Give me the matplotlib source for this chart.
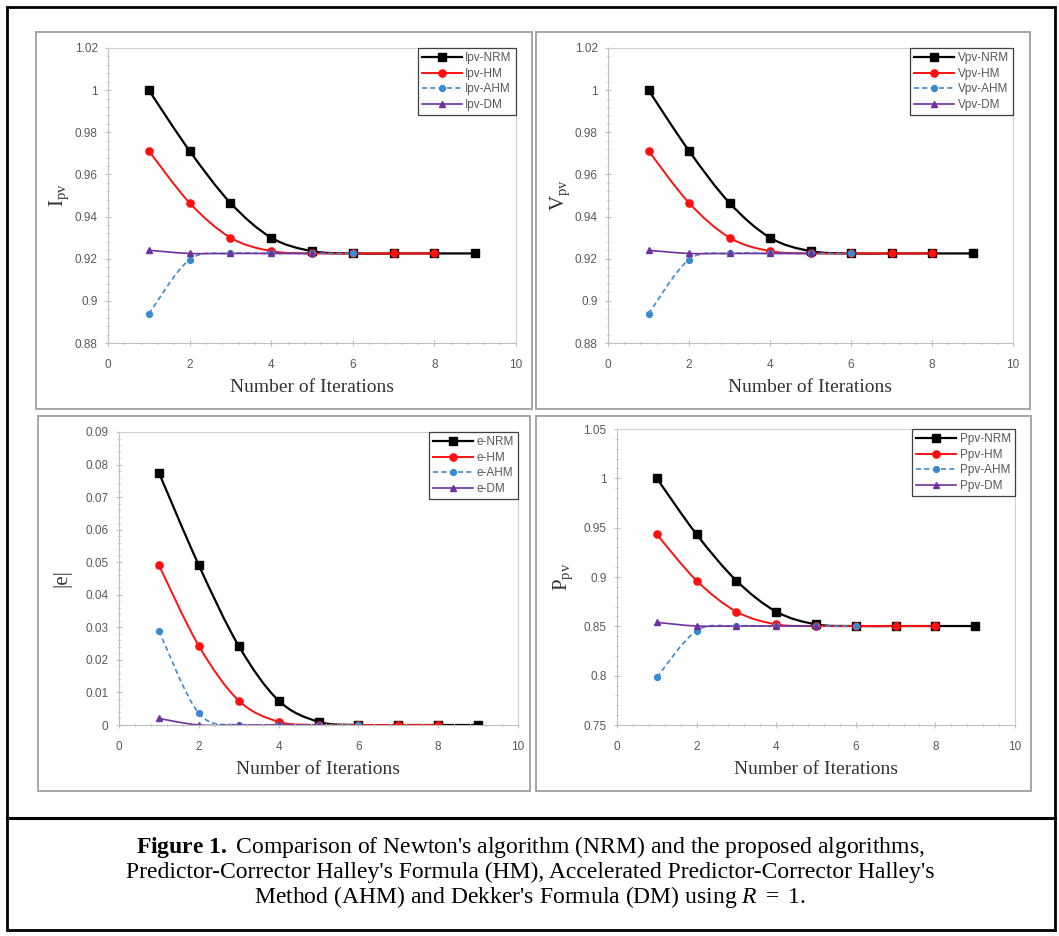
import matplotlib
matplotlib.use("Agg")
from matplotlib import pyplot as plt
from matplotlib.path import Path
from matplotlib.patches import PathPatch, Rectangle
from matplotlib.lines import Line2D
from matplotlib.ticker import MultipleLocator, AutoMinorLocator

plt.rcParams['mathtext.fontset'] = 'custom'
plt.rcParams['mathtext.rm'] = 'Liberation Serif'
plt.rcParams['mathtext.it'] = 'Liberation Serif:italic'
plt.rcParams['mathtext.bf'] = 'Liberation Serif:bold'

# iterations for each method
it_nrm = [1, 2, 3, 4, 5, 6, 7, 8, 9]
it_hm = [1, 2, 3, 4, 5, 6, 7, 8]
it_ahm = [1, 2, 3, 4, 5, 6]
it_dm = [1, 2, 3, 4, 5]

# Ipv
ipv_nrm = [1.0, 0.9712, 0.9465, 0.930, 0.9236, 0.9225, 0.9225, 0.9225, 0.9225]
ipv_hm = [0.9712, 0.9465, 0.930, 0.9236, 0.9225, 0.9225, 0.9225, 0.9225]
ipv_ahm = [0.8938, 0.9196, 0.9225, 0.9225, 0.9225, 0.9225]
ipv_dm = [0.924, 0.9225, 0.9225, 0.9225, 0.9225]

# Vpv
vpv_nrm = [1.0, 0.9712, 0.9465, 0.930, 0.9236, 0.9225, 0.9225, 0.9225, 0.9225]
vpv_hm = [0.9712, 0.9465, 0.930, 0.9236, 0.9225, 0.9225, 0.9225, 0.9225]
vpv_ahm = [0.8938, 0.9196, 0.9225, 0.9225, 0.9225, 0.9225]
vpv_dm = [0.924, 0.9225, 0.9225, 0.9225, 0.9225]

# |e|
e_nrm = [0.0775, 0.0491, 0.0243, 0.0075, 0.001, 0.0, 0.0, 0.0, 0.0]
e_hm = [0.0491, 0.0243, 0.0075, 0.001, 0.0, 0.0, 0.0, 0.0]
e_ahm = [0.0289, 0.0036, 0.0, 0.0, 0.0, 0.0]
e_dm = [0.002, 0.0, 0.0, 0.0, 0.0]

# Ppv
ppv_nrm = [1.0, 0.9432, 0.8963, 0.8649, 0.852, 0.8503, 0.8503, 0.8503, 0.8503]
ppv_hm = [0.9432, 0.8963, 0.8649, 0.852, 0.8503, 0.8503, 0.8503, 0.8503]
ppv_ahm = [0.7983, 0.8456, 0.8503, 0.8503, 0.8503, 0.8503]
ppv_dm = [0.854, 0.8503, 0.8503, 0.8503, 0.8503]

W, H = 1059, 936
GRAY = '#595959'
styles = {
    'NRM': dict(color='black', marker='s', ms=6, ls='-', lw=1.6),
    'HM': dict(color='#ff1010', marker='o', ms=5.2, ls='-', lw=1.4),
    'AHM': dict(color='#3a8ad0', marker='o', ms=4.2, ls=(0, (3, 2)), lw=1.2),
    'DM': dict(color='#7030a0', marker='^', ms=4.8, ls='-', lw=1.2),
}


def box(l, r, t, b):
    return [l / W, 1 - b / H, (r - l) / W, (b - t) / H]


def smooth_line(ax, x, y, st):
    """Excel-like smoothed line through the points (bezier segments)"""
    verts = [(x[0], y[0])]
    codes = [Path.MOVETO]
    n = len(x)
    for i in range(n - 1):
        px, py = (x[i - 1], y[i - 1]) if i > 0 else (x[i], y[i])
        nx, ny = (x[i + 2], y[i + 2]) if i + 2 < n else (x[i + 1], y[i + 1])
        c1 = (x[i] + (x[i + 1] - px) / 6, y[i] + (y[i + 1] - py) / 6)
        c2 = (x[i + 1] - (nx - x[i]) / 6, y[i + 1] - (ny - y[i]) / 6)
        verts += [c1, c2, (x[i + 1], y[i + 1])]
        codes += [Path.CURVE4] * 3
    ax.add_patch(PathPatch(Path(verts, codes), fill=False, edgecolor=st['color'],
                           lw=st['lw'], linestyle=st['ls'], capstyle='butt'))
    ax.plot(x, y, linestyle='none', marker=st['marker'], ms=st['ms'],
            color=st['color'], mec=st['color'])


def panel(rect, series, prefix, ylim, ystep, ylabel, ylab_pos):
    ax = fig.add_axes(box(*rect))
    handles = []
    for name, x, y in series:
        st = styles[name]
        smooth_line(ax, x, y, st)
        handles.append(Line2D([], [], color=st['color'], marker=st['marker'], ms=st['ms'],
                              ls=st['ls'], lw=st['lw']))
    ax.set_xlim(0, 10)
    ax.set_ylim(*ylim)
    ax.xaxis.set_major_locator(MultipleLocator(2))
    ax.xaxis.set_minor_locator(AutoMinorLocator(5))
    ax.yaxis.set_major_locator(MultipleLocator(ystep))
    ax.yaxis.set_minor_locator(AutoMinorLocator(5))
    for s in ['left', 'bottom']:
        ax.spines[s].set_color('#bfbfbf')
    for s in ['top', 'right']:
        ax.spines[s].set_color('#d0d0d0')
    ax.tick_params(which='major', direction='inout', length=5, color='#bfbfbf',
                   labelsize=8.5, labelcolor=GRAY, pad=5)
    ax.tick_params(axis='x', which='major', pad=9)
    ax.tick_params(which='minor', direction='inout', length=2.5, color='#d0d0d0')
    ax.tick_params(axis='x', which='both', top=False)
    ax.tick_params(axis='y', which='both', right=False)
    for lab in ax.get_xticklabels() + ax.get_yticklabels():
        lab.set_family('Liberation Sans')
    ax.yaxis.set_major_formatter(matplotlib.ticker.FuncFormatter(lambda v, p: f'{v:g}'))
    ax.set_xlabel('Number of Iterations', family='Liberation Serif', fontsize=14,
                  color='#333333', labelpad=6)
    ax.set_ylabel(ylabel, family='Liberation Serif', fontsize=15, color='#333333')
    ax.yaxis.set_label_coords(ylab_pos, 0.5)
    leg = ax.legend(handles, [f'{prefix}-{n}' for n, _, _ in series], loc='upper right',
                    borderaxespad=0, fancybox=False, framealpha=1, edgecolor='#404040',
                    prop={'family': 'Liberation Sans', 'size': 8.5}, handlelength=3.4,
                    labelspacing=0.3, borderpad=0.35, handletextpad=0.3)
    leg.get_frame().set_linewidth(0.9)
    for t in leg.get_texts():
        t.set_color(GRAY)
    return ax


fig = plt.figure(figsize=(W / 100, H / 100), dpi=100)

# outer frame and caption separator
fig.patches.append(Rectangle((7 / W, 1 - 930 / H), 1048 / W, 923 / H, transform=fig.transFigure,
                             fill=False, edgecolor='black', lw=2))
fig.add_artist(Line2D([7 / W, 1055 / W], [1 - 818 / H] * 2, color='black', lw=2.2))

# light panel frames
for l, r, t, b in [(36, 532, 32, 409), (536, 1030, 32, 409), (38, 530, 416, 791), (536, 1031, 416, 791)]:
    fig.patches.append(Rectangle((l / W, 1 - b / H), (r - l) / W, (b - t) / H,
                                 transform=fig.transFigure, fill=False,
                                 edgecolor='#a6a6a6', lw=1.4))

panel((108, 516, 48, 343),
      [('NRM', it_nrm, ipv_nrm), ('HM', it_hm, ipv_hm), ('AHM', it_ahm, ipv_ahm), ('DM', it_dm, ipv_dm)],
      'Ipv', (0.88, 1.02), 0.02, r'I$_{\mathrm{pv}}$', -0.09)
panel((608, 1013, 48, 343),
      [('NRM', it_nrm, vpv_nrm), ('HM', it_hm, vpv_hm), ('AHM', it_ahm, vpv_ahm), ('DM', it_dm, vpv_dm)],
      'Vpv', (0.88, 1.02), 0.02, r'V$_{\mathrm{pv}}$', -0.09)
panel((119, 518, 432, 725),
      [('NRM', it_nrm, e_nrm), ('HM', it_hm, e_hm), ('AHM', it_ahm, e_ahm), ('DM', it_dm, e_dm)],
      'e', (0, 0.09), 0.01, '|e|', -0.12)
panel((617, 1015, 429, 725),
      [('NRM', it_nrm, ppv_nrm), ('HM', it_hm, ppv_hm), ('AHM', it_ahm, ppv_ahm), ('DM', it_dm, ppv_dm)],
      'Ppv', (0.75, 1.05), 0.05, r'P$_{\mathrm{pv}}$', -0.105)

caption = [
    r"$\mathbf{Figure\ 1.}$ Comparison of Newton's algorithm (NRM) and the proposed algorithms,",
    "Predictor-Corrector Halley's Formula (HM), Accelerated Predictor-Corrector Halley's",
    r"Method (AHM) and Dekker's Formula (DM) using $R\ =\ 1$.",
]
for i, line in enumerate(caption):
    fig.text(530 / W, 1 - (847 + 25 * i) / H, line, ha='center', va='center',
             family='Liberation Serif', fontsize=17, color='black')

fig.savefig('out.png', dpi=100)
